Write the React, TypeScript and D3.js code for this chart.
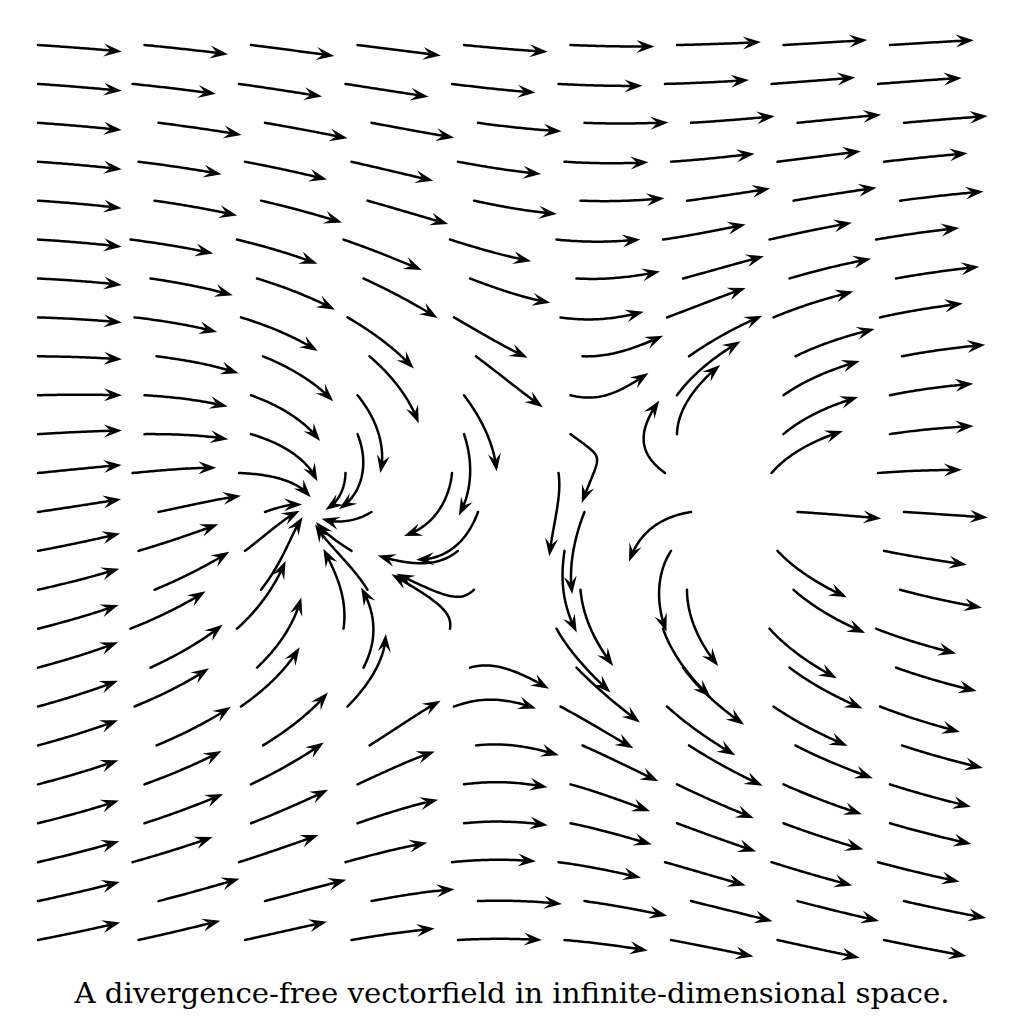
import React, { useEffect, useRef } from "react";
import * as d3 from "d3";

const width = 1024;
const height = 1024;

// seed grid: arrow tails sit on these rows / columns
const rowIndex = d3.range(24);
const colIndex = d3.range(9);
const rowShift = [0, -12, 14, -6, 10, -14, 6, -10, 12, 0];

// singular points of the field (field units, 0..100 across the plot)
const pointX = [29, 75.5];
const pointY = [52, 52];
const pointStrength = [-740, 680]; // + source / - sink
const pointSwirl = [320, 0]; // clockwise circulation
const baseFlow = [1, 0];

const caption = "A divergence-free vectorfield in infinite-dimensional space.";

function App() {
  const svgRef = useRef<SVGSVGElement>(null);

  useEffect(() => {
    const svg = d3.select(svgRef.current);
    svg.selectAll("*").remove();

    const fx = d3.scaleLinear().domain([0, 100]).range([38, 985]);
    const fy = d3.scaleLinear().domain([0, 100]).range([45, 940]);
    const row = d3.scalePoint<number>().domain(rowIndex).range([45, 940]);
    const col = d3.scalePoint<number>().domain(colIndex).range([38, 890]);

    const points = pointX.map((x, i) => ({
      px: fx(x),
      py: fy(pointY[i]),
      q: pointStrength[i],
      g: pointSwirl[i],
    }));

    const field = (x: number, y: number) => {
      let u = baseFlow[0];
      let v = baseFlow[1];
      points.forEach((p) => {
        const dx = x - p.px;
        const dy = y - p.py;
        const r2 = dx * dx + dy * dy + 1e-6;
        u += (p.q / (2 * Math.PI)) * (dx / r2) + (p.g / (2 * Math.PI)) * (-dy / r2);
        v += (p.q / (2 * Math.PI)) * (dy / r2) + (p.g / (2 * Math.PI)) * (dx / r2);
      });
      return [u, v];
    };
    const dir = (x: number, y: number) => {
      const [u, v] = field(x, y);
      const n = Math.hypot(u, v) || 1;
      return [u / n, v / n];
    };

    const arrowLen = 84;
    const step = 2;
    const trace = (x0: number, y0: number) => {
      const pts: [number, number][] = [[x0, y0]];
      let x = x0;
      let y = y0;
      for (let s = 0; s < arrowLen; s += step) {
        const d1 = dir(x, y);
        const d2 = dir(x + (d1[0] * step) / 2, y + (d1[1] * step) / 2);
        x += d2[0] * step;
        y += d2[1] * step;
        if (points.some((p) => p.q < 0 && Math.hypot(x - p.px, y - p.py) < 12)) break;
        if (x > 988) break;
        pts.push([x, y]);
      }
      return pts;
    };

    const seeds: [number, number][] = [];
    rowIndex.forEach((r) => {
      colIndex.forEach((c) => {
        const sx = (col(c) as number) + (c > 0 ? rowShift[r % rowShift.length] : 0);
        seeds.push([sx, row(r) as number]);
      });
    });

    const line = d3.line<[number, number]>();
    const headLen = 18;
    const headHalf = 6.5;
    const g = svg.append("g");

    seeds.forEach(([sx, sy]) => {
      const pts = trace(sx, sy);
      if (pts.length < 8) return;
      const tip = pts[pts.length - 1];
      const prev = pts[Math.max(0, pts.length - 5)];
      let ux = tip[0] - prev[0];
      let uy = tip[1] - prev[1];
      const n = Math.hypot(ux, uy) || 1;
      ux /= n;
      uy /= n;
      const body = pts.filter(
        (p) => Math.hypot(p[0] - tip[0], p[1] - tip[1]) > headLen * 0.6
      );
      const notch: [number, number] = [
        tip[0] - ux * headLen * 0.62,
        tip[1] - uy * headLen * 0.62,
      ];
      body.push(notch);
      g.append("path")
        .attr("d", line(body))
        .attr("fill", "none")
        .attr("stroke", "#000")
        .attr("stroke-width", 2.5)
        .attr("stroke-linecap", "round");
      const bx = tip[0] - ux * headLen;
      const by = tip[1] - uy * headLen;
      const head: [number, number][] = [
        tip,
        [bx - uy * headHalf, by + ux * headHalf],
        notch,
        [bx + uy * headHalf, by - ux * headHalf],
      ];
      g.append("path")
        .attr("d", line(head) + "Z")
        .attr("fill", "#000")
        .attr("stroke", "none");
    });

    svg
      .append("text")
      .attr("x", 512)
      .attr("y", 1003)
      .attr("text-anchor", "middle")
      .attr("textLength", 875)
      .attr("lengthAdjust", "spacingAndGlyphs")
      .attr("font-family", "'DejaVu Serif', 'Times New Roman', 'Liberation Serif', serif")
      .attr("font-size", 28)
      .attr("fill", "#000")
      .text(caption);
  }, []);

  return (
    <svg
      ref={svgRef}
      width={width}
      height={height}
      style={{ position: "absolute", left: 0, top: 0, background: "#fff" }}
    ></svg>
  );
}

export default App;
